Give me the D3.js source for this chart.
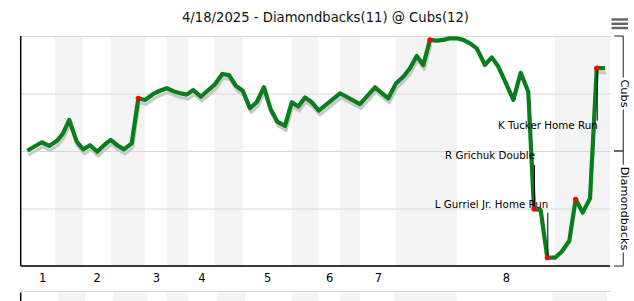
<!DOCTYPE html>
<html><head><meta charset="utf-8">
<script src="https://cdn.jsdelivr.net/npm/d3@7"></script>
<style>
body{margin:0;background:#fff}
svg{display:block;font-family:"DejaVu Sans",sans-serif}
</style>
</head><body>
<svg id="c" width="634" height="301"></svg>
<script>
// ---------------- data ----------------
const title = "4/18/2025 - Diamondbacks(11) @ Cubs(12)";
const innings = ["1", "2", "3", "4", "5", "6", "7", "8"];
const gameStart = 1.2;
// bottom halves of innings (Cubs batting), in play-index units
const bottomHalves = [[5.02, 9.11], [13.25, 18.32], [21.52, 24.71], [28.55, 32.75],
                      [39.99, 43.91], [47.12, 50.07], [55.35, 64.40], [78.88, 87.0]];
const playIndex = [0.93, 3.06, 4.18, 5.27, 6.16, 7.13, 8.23, 9.20, 10.19, 11.27,
  12.26, 13.25, 14.22, 15.21, 16.35, 17.33, 18.32, 19.54, 20.53, 21.52,
  22.60, 23.49, 24.48, 25.45, 26.59, 27.67, 28.66, 29.73, 30.72, 31.76,
  32.75, 33.83, 34.81, 35.89, 36.88, 37.86, 39.00, 39.99, 40.96, 41.95,
  42.94, 43.99, 47.12, 50.07, 52.29, 54.25, 55.39, 56.47, 57.46, 58.45,
  59.42, 60.41, 61.40, 62.38, 63.37, 64.36, 65.33, 66.32, 67.31, 68.54,
  69.53, 70.50, 71.64, 72.72, 73.81, 74.93, 75.77, 76.76, 77.74, 78.88,
  79.87, 80.99, 81.93, 82.97, 84.05, 85.04, 86.26];
const cubsWinProb = [0.501, 0.538, 0.522, 0.543, 0.574, 0.635, 0.541, 0.507, 0.525, 0.497,
  0.525, 0.548, 0.525, 0.507, 0.533, 0.729, 0.722, 0.748, 0.762, 0.773,
  0.759, 0.751, 0.745, 0.765, 0.736, 0.765, 0.790, 0.835, 0.830, 0.783,
  0.762, 0.686, 0.712, 0.777, 0.681, 0.628, 0.609, 0.712, 0.693, 0.733,
  0.712, 0.676, 0.751, 0.704, 0.777, 0.729, 0.794, 0.823, 0.860, 0.913,
  0.874, 0.983, 0.980, 0.983, 0.990, 0.990, 0.983, 0.968, 0.946, 0.874,
  0.907, 0.867, 0.794, 0.722, 0.840, 0.758, 0.248, 0.243, 0.036, 0.036,
  0.062, 0.110, 0.290, 0.232, 0.294, 0.860, 0.860];
const keyPlays = [17.33, 60.41, 75.77, 77.74, 81.93, 85.04];
const annotationTexts = ["K Tucker Home Run", "R Grichuk Double", "L Gurriel Jr. Home Run"];
const annotationPlays = [85.04, 75.77, 77.74];
const shadowRanges = [[0, 60.41], [85.04, 87]];
const teams = ["Cubs", "Diamondbacks"];
const nextChartBands = [[5.51, 9.45], [13.63, 18.72], [21.52, 24.71], [28.91, 33.09],
                        [39.99, 43.91], [47.12, 50.07], [55.14, 64.36], [78.48, 86.56]];

// ---------------- layout ----------------
const svg = d3.select("#c");
const L = 21, R = 610, T = 36, B = 266;
const x = d3.scaleLinear().domain([0, 87]).range([L, R]);
const y = d3.scaleLinear().domain([0, 1]).range([B, T]);
const pts = playIndex.map((p, i) => ({x: p, y: cubsWinProb[i]}));
const probAt = p => pts[playIndex.indexOf(p)].y;

// title
svg.append("text").attr("x", 325.5).attr("y", 21.7).attr("text-anchor", "middle")
  .attr("font-size", "13.2px").attr("fill", "#111").text(title);

// menu icon
[19.5, 23.8, 28].forEach(v => svg.append("line").attr("x1", 611.5).attr("x2", 628)
  .attr("y1", v).attr("y2", v).attr("stroke", "#666").attr("stroke-width", 2.4));

// bands
svg.append("g").selectAll("rect").data(bottomHalves).join("rect")
  .attr("x", d => x(d[0])).attr("width", d => x(d[1]) - x(d[0]))
  .attr("y", T).attr("height", B - T).attr("fill", "#f4f4f4");

// gridlines
const grid = svg.append("g").attr("transform", `translate(${L},0)`)
  .call(d3.axisLeft(y).tickValues([0, 0.25, 0.5, 0.75, 1]).tickSize(-(R + 1 - L)).tickFormat(""));
grid.select(".domain").remove();
grid.selectAll("line").attr("stroke", "#d8d8d8").attr("stroke-width", 1);

// x axis with inning labels at centre of top halves
const labelPos = bottomHalves.map((b, i) => ((i === 0 ? gameStart : bottomHalves[i - 1][1]) + b[0]) / 2);
const xa = svg.append("g").attr("transform", `translate(0,${B})`)
  .call(d3.axisBottom(x).tickValues(labelPos).tickFormat((d, i) => innings[i]).tickSize(0).tickPadding(0));
xa.select(".domain").remove();
xa.selectAll("text").attr("font-family", "DejaVu Sans").attr("font-size", "11.5px")
  .attr("fill", "#000").attr("dy", null).attr("y", 16);

// axis lines
svg.append("line").attr("x1", L).attr("x2", R).attr("y1", B).attr("y2", B)
  .attr("stroke", "#000").attr("stroke-width", 1.5);
svg.append("line").attr("x1", 20.7).attr("x2", 20.7).attr("y1", T).attr("y2", B)
  .attr("stroke", "#000").attr("stroke-width", 1.5);

// shadow line
const inShadow = v => shadowRanges.some(r => v >= r[0] && v <= r[1]);
svg.append("path").datum(pts)
  .attr("d", d3.line().defined(d => inShadow(d.x)).x(d => x(d.x)).y(d => y(d.y)))
  .attr("transform", "translate(1,4.5)")
  .attr("fill", "none").attr("stroke", "#c8c8c8").attr("stroke-width", 3)
  .attr("stroke-linejoin", "round");

// main line
svg.append("path").datum(pts)
  .attr("d", d3.line().x(d => x(d.x)).y(d => y(d.y)))
  .attr("fill", "none").attr("stroke", "#0a7d1c").attr("stroke-width", 4.2)
  .attr("stroke-linejoin", "round").attr("stroke-linecap", "butt");

// annotations
const annLayout = [{dy: 61, lineFrom: 0, lineTo: 52.4}, {dy: -49.7, lineFrom: -44, lineTo: 0},
                   {dy: -50, lineFrom: -45, lineTo: 0}];
annotationTexts.forEach((t, i) => {
  const px = x(annotationPlays[i]), py = y(probAt(annotationPlays[i]));
  const lay = annLayout[i];
  svg.append("line").attr("x1", px + 0.5).attr("x2", px + 0.5)
    .attr("y1", py + lay.lineFrom).attr("y2", py + lay.lineTo)
    .attr("stroke", "#000").attr("stroke-width", 1);
  svg.append("text").attr("x", px + 1).attr("y", py + lay.dy).attr("text-anchor", "end")
    .attr("font-size", "10.3px").attr("fill", "#000").text(t);
});

// key play markers
svg.append("g").selectAll("circle").data(keyPlays).join("circle")
  .attr("cx", d => x(d)).attr("cy", d => y(probAt(d))).attr("r", 2.6).attr("fill", "#ff0000");

// team brackets on the right
teams.forEach((t, i) => {
  const y0 = y(1 - 0.5 * i), y1 = y(0.5 - 0.5 * i), ym = (y0 + y1) / 2;
  const g = svg.append("g");
  const txt = g.append("text").attr("transform", `translate(620.8,${ym}) rotate(90)`)
    .attr("text-anchor", "middle").attr("font-size", "11.3px").attr("fill", "#000").text(t);
  const half = txt.node().getComputedTextLength() / 2 + 2;
  const st = {stroke: "#555", "stroke-width": 1.3};
  const seg = (a, b, c, d) => { const l = g.append("line").attr("x1", a).attr("y1", b).attr("x2", c).attr("y2", d); Object.entries(st).forEach(([k, v]) => l.attr(k, v)); };
  seg(614, y0, 623.3, y0);
  seg(614, y1, 623.3, y1);
  seg(623.3, y0, 623.3, ym - half);
  seg(623.3, ym + half, 623.3, y1);
});

// top of the next chart (cut off)
const nb = 292;
svg.append("g").selectAll("rect").data(nextChartBands).join("rect")
  .attr("x", d => x(d[0])).attr("width", d => x(d[1]) - x(d[0]))
  .attr("y", nb).attr("height", 301 - nb).attr("fill", "#f4f4f4");
svg.append("line").attr("x1", L).attr("x2", R + 1).attr("y1", 291.5).attr("y2", 291.5)
  .attr("stroke", "#d8d8d8").attr("stroke-width", 1);
svg.append("line").attr("x1", 20.7).attr("x2", 20.7).attr("y1", 292.5).attr("y2", 301)
  .attr("stroke", "#000").attr("stroke-width", 1.5);
</script>
</body></html>
